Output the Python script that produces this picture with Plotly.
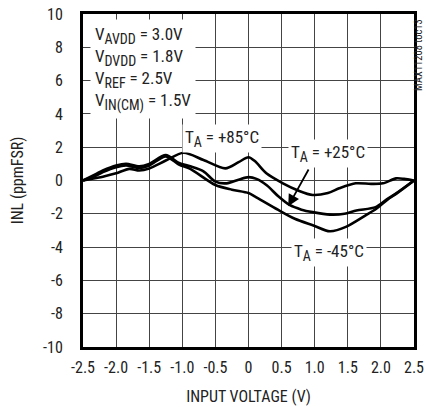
import plotly.graph_objects as go

FONT = "Liberation Sans Narrow, Roboto Condensed, Arial Narrow, Liberation Sans, sans-serif"

x_85 = [-2.5, -2.3, -2.2, -2.0, -1.8, -1.65, -1.5, -1.25, -0.98, -0.68, -0.35, -0.15, 0.0, 0.1, 0.27, 0.52, 0.75, 0.97, 1.2, 1.37, 1.62, 1.85, 2.03, 2.23, 2.35, 2.5]
y_85 = [0.0, 0.15, 0.23, 0.43, 0.7, 0.6, 0.72, 1.2, 1.67, 1.23, 0.73, 1.1, 1.4, 1.15, 0.43, -0.17, -0.6, -0.87, -0.75, -0.47, -0.17, -0.2, -0.17, 0.13, 0.1, 0.0]

x_25 = [-2.5, -2.3, -2.2, -2.0, -1.85, -1.65, -1.5, -1.25, -1.05, -0.88, -0.68, -0.5, -0.33, -0.15, 0.0, 0.12, 0.28, 0.45, 0.62, 0.8, 0.97, 1.23, 1.45, 1.63, 1.92, 2.1, 2.23, 2.5]
y_25 = [0.0, 0.4, 0.6, 0.9, 1.0, 0.85, 1.0, 1.53, 1.05, 0.85, 0.55, -0.07, -0.17, 0.05, 0.2, 0.1, -0.3, -0.95, -1.47, -1.75, -1.9, -2.05, -2.0, -1.8, -1.6, -1.1, -0.77, 0.0]

x_m45 = [-2.5, -2.3, -2.2, -2.0, -1.85, -1.65, -1.5, -1.25, -1.05, -0.88, -0.5, -0.25, 0.0, 0.1, 0.45, 0.7, 0.98, 1.23, 1.48, 1.78, 1.93, 2.1, 2.23, 2.5]
y_m45 = [0.0, 0.3, 0.5, 0.8, 0.9, 0.75, 0.9, 1.45, 0.95, 0.7, -0.27, -0.55, -0.75, -0.97, -1.77, -2.3, -2.7, -3.05, -2.77, -2.07, -1.7, -1.15, -0.8, 0.0]

x_ticks = [-2.5, -2.0, -1.5, -1.0, -0.5, 0, 0.5, 1.0, 1.5, 2.0, 2.5]
x_tick_text = ["-2.5", "-2.0", "-1.5", "-1.0", "-0.5", "0", "0.5", "1.0", "1.5", "2.0", "2.5"]
y_ticks = [-10, -8, -6, -4, -2, 0, 2, 4, 6, 8, 10]
y_tick_text = ["-10", "-8", "-6", "-4", "-2", "0", "2", "4", "6", "8", "10"]


def sub(s):
    return "<sub><span style='font-size:14px'>" + s + "</span></sub>"


fig = go.Figure()
for xs, ys in [(x_85, y_85), (x_25, y_25), (x_m45, y_m45)]:
    fig.add_trace(go.Scatter(x=xs, y=ys, mode="lines",
                             line=dict(color="black", width=2.6, shape="spline", smoothing=0.8),
                             showlegend=False, hoverinfo="skip"))

fig.update_layout(
    width=426, height=407,
    margin=dict(l=82.5, r=11.5, t=14, b=60),
    paper_bgcolor="white", plot_bgcolor="white",
    font=dict(family=FONT, size=16, color="#222"),
    xaxis=dict(range=[-2.5, 2.5], tickvals=x_ticks, ticktext=x_tick_text,
               showgrid=True, gridcolor="#444", gridwidth=1, zeroline=False,
               showline=True, linecolor="black", linewidth=3, mirror=True,
               ticks="", ticklen=0, automargin=False, ticklabelstandoff=4,
               ticklabeloverflow="allow", tickfont=dict(size=16),
               title=dict(text="INPUT VOLTAGE (V)", standoff=15, font=dict(size=16))),
    yaxis=dict(range=[-10, 10], tickvals=y_ticks, ticktext=y_tick_text,
               showgrid=True, gridcolor="#444", gridwidth=1, zeroline=False,
               showline=True, linecolor="black", linewidth=3, mirror=True,
               ticks="", ticklen=0, automargin=False, ticklabelstandoff=14,
               ticklabeloverflow="allow", tickfont=dict(size=16),
               title=dict(text="INL (ppmFSR)", standoff=16, font=dict(size=16))),
)

fig.add_annotation(xref="paper", yref="paper", x=0.0, xshift=7, y=0.985, xanchor="left", yanchor="top",
                   text="V" + sub("AVDD") + " = 3.0V<br>V" + sub("DVDD") + " = 1.8V<br>V" + sub("REF") + " = 2.5V<br>V" + sub("IN(CM)") + " = 1.5V",
                   align="left", showarrow=False, bgcolor="white", borderpad=4,
                   font=dict(size=17, color="#222"))

fig.add_annotation(x=-0.4, y=2.55, text="T" + sub("A") + " = +85°C", showarrow=False,
                   bgcolor="white", borderpad=2, font=dict(size=17, color="#222"))
fig.add_annotation(x=1.2, y=1.65, text="T" + sub("A") + " = +25°C", showarrow=False,
                   bgcolor="white", borderpad=2, font=dict(size=17, color="#222"))
fig.add_annotation(x=0.6, y=-1.55, ax=0.92, ay=0.75, axref="x", ayref="y", text="",
                   showarrow=True, arrowhead=2, arrowsize=1.3, arrowwidth=1.8, arrowcolor="black")
fig.add_annotation(x=1.22, y=-4.3, text="T" + sub("A") + " = -45°C", showarrow=False,
                   bgcolor="white", borderpad=2, font=dict(size=17, color="#222"))

fig.add_annotation(xref="paper", yref="paper", x=1.0, xshift=5, y=0.877, xanchor="center", yanchor="middle",
                   text="MAX11208 toc13", textangle=-90, showarrow=False,
                   font=dict(size=10.5, color="#222"))

fig.write_html("out.html", config={"displayModeBar": False},
               post_script="document.body.style.margin='0';")
